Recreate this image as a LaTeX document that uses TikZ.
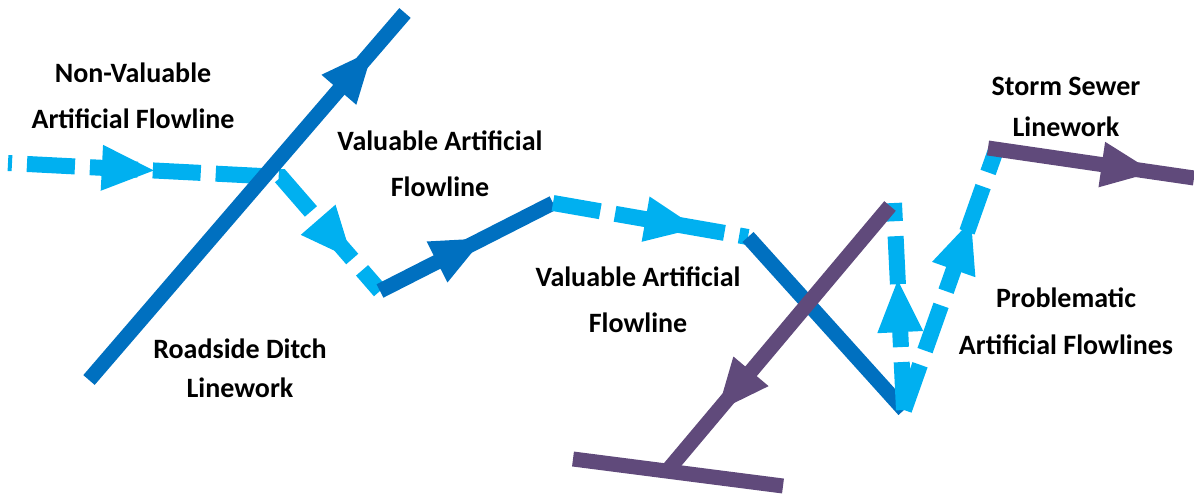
\documentclass[tikz,border=0pt]{standalone}
\usepackage{fontspec}
\setmainfont{Carlito}
\usetikzlibrary{arrows.meta,decorations.markings}
\definecolor{lblue}{HTML}{00B0F0}
\definecolor{dblue}{HTML}{0070C0}
\definecolor{purp}{HTML}{604A7B}
\tikzset{
  flow/.style={line width=16pt, lblue, dash pattern=on 48pt off 15pt},
  ditch/.style={line width=15pt, dblue},
  sewer/.style={line width=15pt, purp},
  headtip/.tip={Triangle[length=52pt,width=46pt,line width=0pt]},
  headat/.style={postaction={decorate, decoration={markings,
      mark=at position #1 with {\arrow{headtip}}}}},
  lbl/.style={font={\bfseries\fontsize{28}{#1}\selectfont}, align=center,
      inner sep=0pt, text=black},
}
\begin{document}
\begin{tikzpicture}[x=1pt,y=-1pt]
\useasboundingbox (0,0) rectangle (1194,498);
% points
\coordinate (A) at (8,163);
\coordinate (B) at (281,177);
\coordinate (C) at (380,291);
\coordinate (D) at (553,203);
\coordinate (E) at (748,237);
\coordinate (F) at (904,410);
\coordinate (G) at (894,203);
\coordinate (H) at (996,150);
\coordinate (R1) at (89,380);
\coordinate (R2) at (405,13);
\coordinate (J) at (890,206);
\coordinate (K) at (668,470);
\coordinate (L) at (573,459);
\coordinate (M) at (783,486);
\coordinate (S1) at (988,148);
\coordinate (S2) at (1194,178);

% non-valuable / valuable flowline (dashed)
\draw[flow, dash phase=44pt, postaction={decorate, decoration={markings,
      mark=at position 146pt with {\arrow{headtip}},
      mark=at position 382pt with {\arrow{headtip}}}}]
  (A) -- (B) -- (C);
% roadside ditch
\draw[ditch, headat=435pt] (R1) -- (R2);
% valuable path segments
\draw[ditch, headat=116pt] (C) -- (D);
\draw[flow, headat=146pt] (D) -- (E);
\draw[ditch] (E) -- (F);
% problematic flowlines
\draw[flow, headat=130pt] (F) -- (G);
\draw[flow, headat=201pt] (F) -- (H);
% storm sewer
\draw[sewer, headat=268pt] (J) -- (K);
\draw[sewer] (L) -- (M);
\draw[sewer, headat=167pt] (S1) -- (S2);

% labels
\node[lbl=46] (nv) at (133,96) {Non-Valuable\\Artificial Flowline};
\node[lbl=46] (va1) at (440,164) {Valuable Artificial\\Flowline};
\node[lbl=46] (va2) at (638,300) {Valuable Artificial\\Flowline};
\node[lbl=39] (rd) at (240,368) {Roadside Ditch\\Linework};
\node[lbl=41] (ss) at (1066,107) {Storm Sewer\\Linework};
\node[lbl=47] (pr) at (1066,321) {Problematic\\Artificial Flowlines};
\end{tikzpicture}
\end{document}
